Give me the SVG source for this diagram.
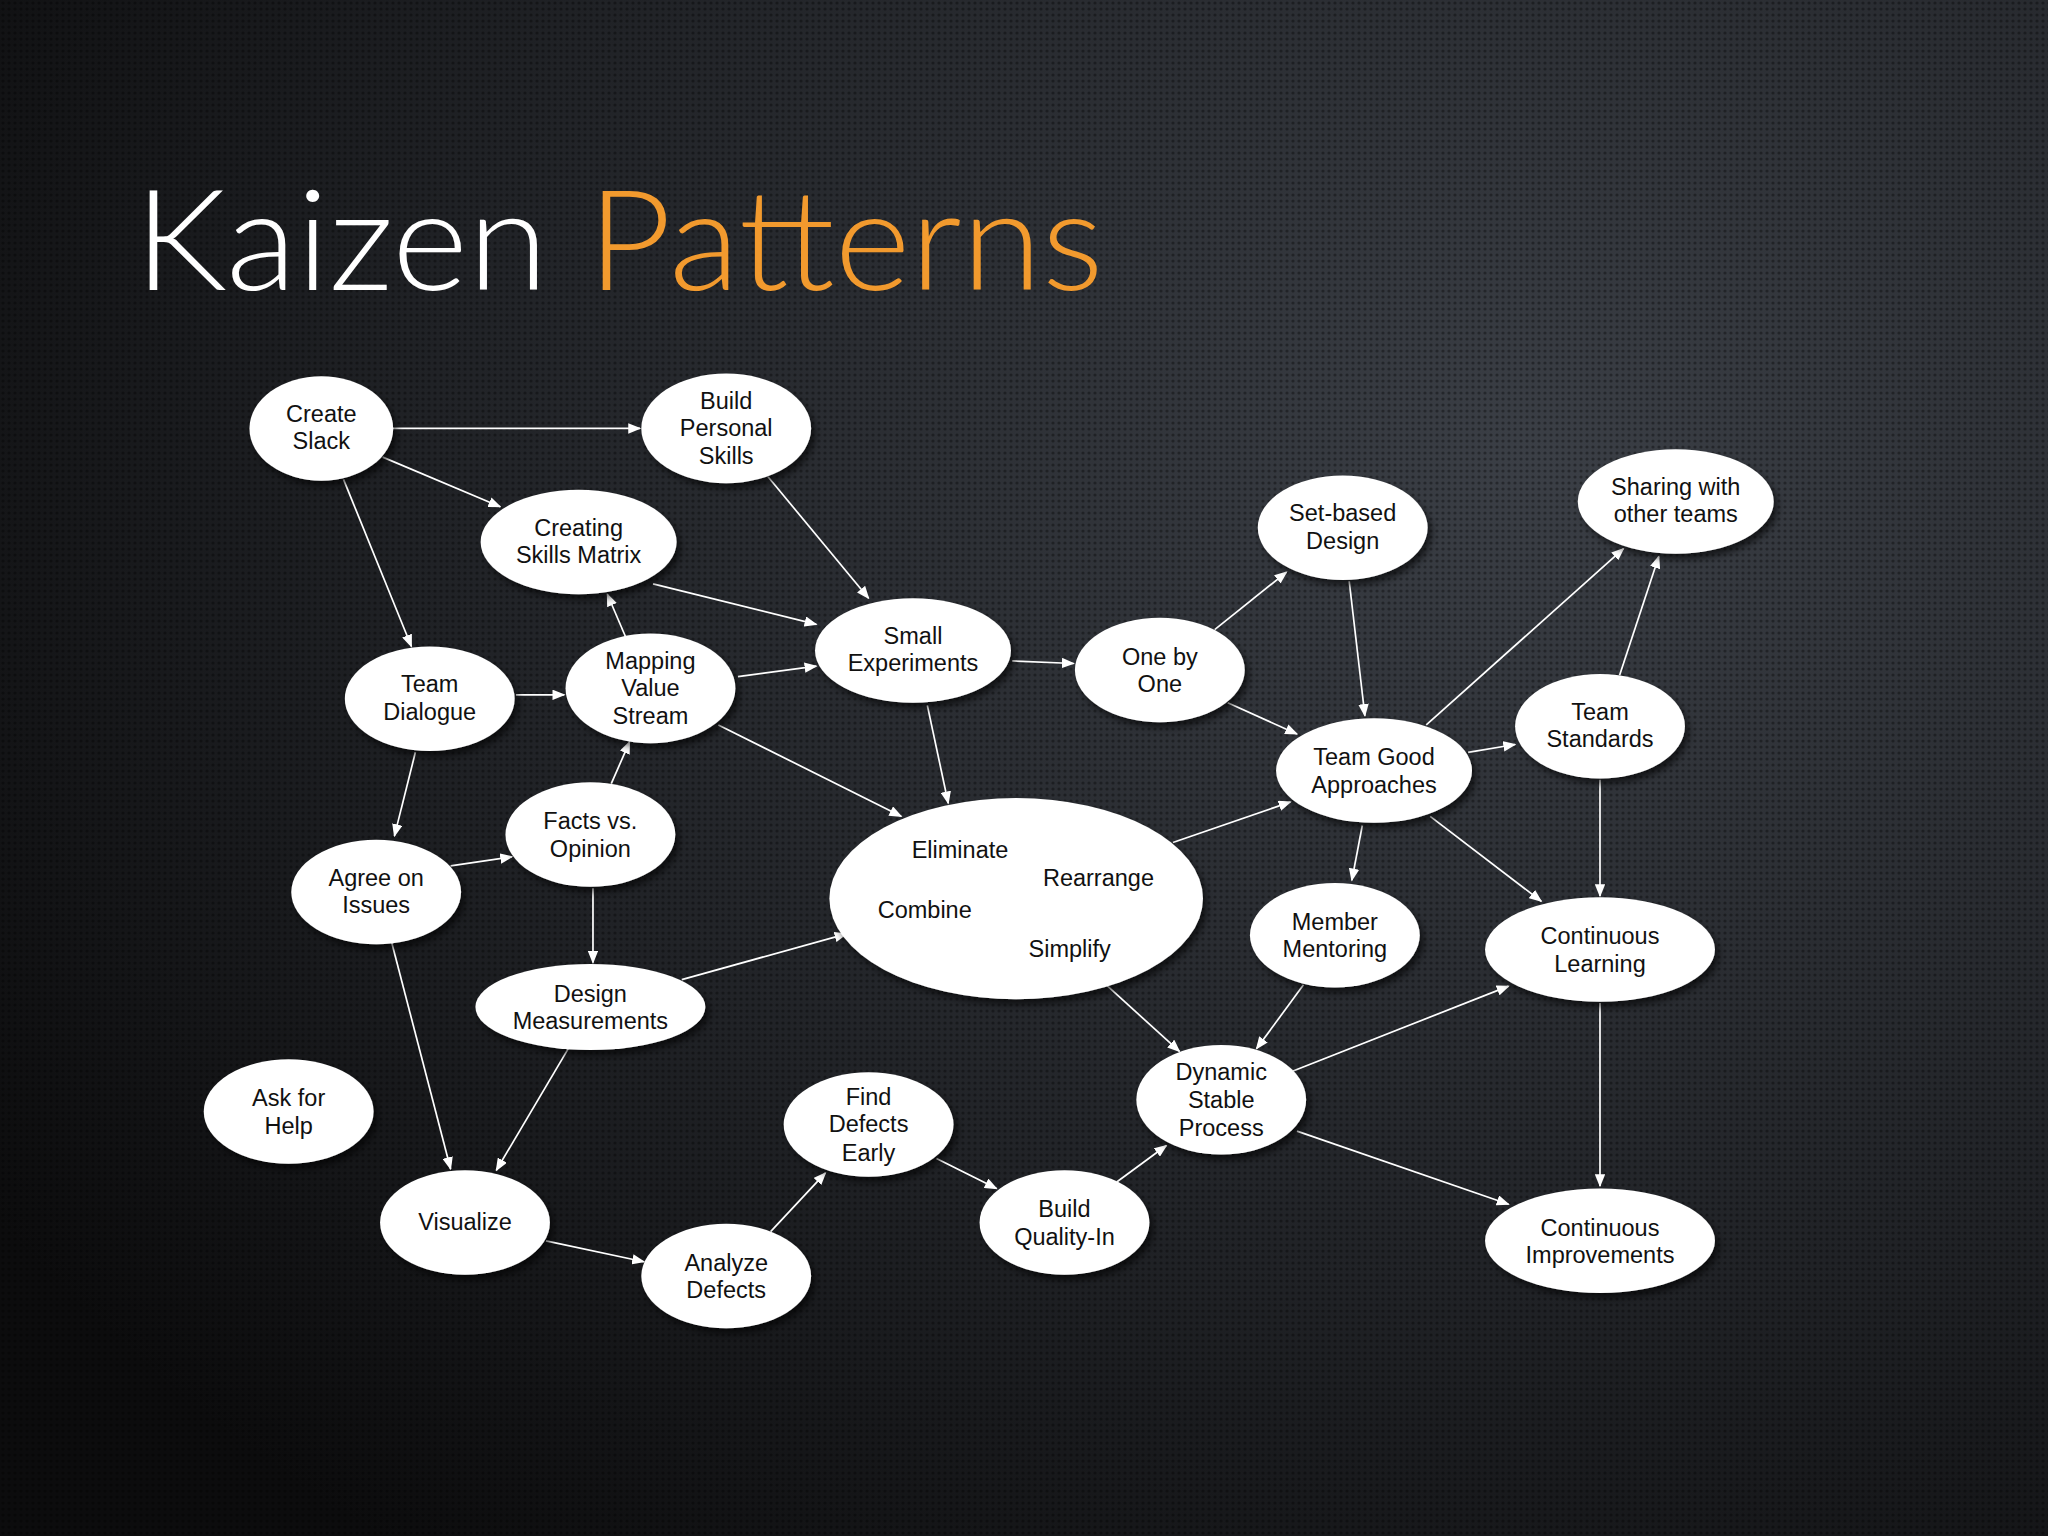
<svg xmlns="http://www.w3.org/2000/svg" width="2048" height="1536" viewBox="0 0 2048 1536">
<defs>
<radialGradient id="bg" cx="0.75" cy="0.3" r="0.9">
<stop offset="0" stop-color="#3b3f46"/><stop offset="0.6" stop-color="#202226"/><stop offset="1" stop-color="#0c0c0d"/>
</radialGradient>
<pattern id="dots" width="6" height="6" patternUnits="userSpaceOnUse">
<circle cx="3" cy="3" r="1.6" fill="#000" fill-opacity="0.35"/>
</pattern>
<marker id="ah" markerWidth="10" markerHeight="8" refX="9" refY="4" orient="auto" markerUnits="userSpaceOnUse">
<path d="M0,0 L10,4 L0,8 z" fill="#fff"/>
</marker>
<filter id="sh" x="-20%" y="-20%" width="150%" height="150%">
<feDropShadow dx="3" dy="4" stdDeviation="3" flood-color="#000" flood-opacity="0.6"/>
</filter>
<style>
.n ellipse{fill:#fff;filter:url(#sh)}
.n text,.t{font-family:"Liberation Sans",Arial,sans-serif;font-size:18px;fill:#111;text-anchor:middle}
#edges line{stroke:#fff;stroke-width:1.3;marker-end:url(#ah)}
</style>
</defs>
<rect width="2048" height="1536" fill="url(#bg)"/>
<rect width="2048" height="1536" fill="url(#dots)"/>
<g transform="scale(1.30612)">
<text x="103" y="222" font-family="Lato,'Liberation Sans',sans-serif" font-weight="300" font-size="108" textLength="742" lengthAdjust="spacingAndGlyphs"><tspan fill="#fff">Kaizen </tspan><tspan fill="#f29a2e">Patterns</tspan></text>
<g id="edges">
<line x1="300" y1="328" x2="490" y2="328"/>
<line x1="293" y1="350" x2="383" y2="388"/>
<line x1="263" y1="367" x2="315" y2="495"/>
<line x1="588" y1="365" x2="665" y2="458"/>
<line x1="500" y1="447" x2="625" y2="478"/>
<line x1="480" y1="490" x2="465" y2="455"/>
<line x1="395" y1="532" x2="432" y2="532"/>
<line x1="565" y1="518" x2="625" y2="510"/>
<line x1="550" y1="555" x2="690" y2="625"/>
<line x1="710" y1="540" x2="726" y2="615"/>
<line x1="775" y1="506" x2="822" y2="508"/>
<line x1="930" y1="482" x2="985" y2="438"/>
<line x1="940" y1="538" x2="993" y2="562"/>
<line x1="1033" y1="445" x2="1045" y2="548"/>
<line x1="1092" y1="555" x2="1243" y2="420"/>
<line x1="1240" y1="517" x2="1270" y2="426"/>
<line x1="1124" y1="576" x2="1160" y2="570"/>
<line x1="1043" y1="632" x2="1035" y2="674"/>
<line x1="1095" y1="625" x2="1180" y2="690"/>
<line x1="1225" y1="597" x2="1225" y2="686"/>
<line x1="1225" y1="768" x2="1225" y2="908"/>
<line x1="898" y1="645" x2="988" y2="614"/>
<line x1="318" y1="576" x2="302" y2="640"/>
<line x1="468" y1="600" x2="482" y2="568"/>
<line x1="345" y1="663" x2="392" y2="656"/>
<line x1="454" y1="680" x2="454" y2="737"/>
<line x1="522" y1="750" x2="648" y2="715"/>
<line x1="435" y1="803" x2="380" y2="896"/>
<line x1="300" y1="722" x2="345" y2="895"/>
<line x1="418" y1="950" x2="493" y2="966"/>
<line x1="590" y1="943" x2="632" y2="898"/>
<line x1="717" y1="887" x2="763" y2="910"/>
<line x1="855" y1="905" x2="893" y2="877"/>
<line x1="848" y1="755" x2="903" y2="805"/>
<line x1="998" y1="754" x2="962" y2="803"/>
<line x1="990" y1="820" x2="1155" y2="755"/>
<line x1="993" y1="866" x2="1155" y2="922"/>
</g>
<g id="create-slack" class="n"><ellipse cx="246" cy="328" rx="55" ry="40"/><text x="246" y="323">Create</text><text x="246" y="344">Slack</text></g>
<g id="build-personal" class="n"><ellipse cx="556" cy="328" rx="65" ry="42"/><text x="556" y="313">Build</text><text x="556" y="334">Personal</text><text x="556" y="355">Skills</text></g>
<g id="creating-skills" class="n"><ellipse cx="443" cy="415" rx="75" ry="40"/><text x="443" y="410">Creating</text><text x="443" y="431">Skills Matrix</text></g>
<g id="team-dialogue" class="n"><ellipse cx="329" cy="535" rx="65" ry="40"/><text x="329" y="530">Team</text><text x="329" y="551">Dialogue</text></g>
<g id="mapping" class="n"><ellipse cx="498" cy="527" rx="65" ry="42"/><text x="498" y="512">Mapping</text><text x="498" y="533">Value</text><text x="498" y="554">Stream</text></g>
<g id="small-exp" class="n"><ellipse cx="699" cy="498" rx="75" ry="40"/><text x="699" y="493">Small</text><text x="699" y="514">Experiments</text></g>
<g id="one-by-one" class="n"><ellipse cx="888" cy="513" rx="65" ry="40"/><text x="888" y="509">One by</text><text x="888" y="530">One</text></g>
<g id="set-based" class="n"><ellipse cx="1028" cy="404" rx="65" ry="40"/><text x="1028" y="399">Set-based</text><text x="1028" y="420">Design</text></g>
<g id="sharing" class="n"><ellipse cx="1283" cy="384" rx="75" ry="40"/><text x="1283" y="379">Sharing with</text><text x="1283" y="400">other teams</text></g>
<g id="team-standards" class="n"><ellipse cx="1225" cy="556" rx="65" ry="40"/><text x="1225" y="551">Team</text><text x="1225" y="572">Standards</text></g>
<g id="team-good" class="n"><ellipse cx="1052" cy="590" rx="75" ry="40"/><text x="1052" y="586">Team Good</text><text x="1052" y="607">Approaches</text></g>
<g id="facts" class="n"><ellipse cx="452" cy="639" rx="65" ry="40"/><text x="452" y="635">Facts vs.</text><text x="452" y="656">Opinion</text></g>
<g id="agree" class="n"><ellipse cx="288" cy="683" rx="65" ry="40"/><text x="288" y="678">Agree on</text><text x="288" y="699">Issues</text></g>
<g id="eliminate" class="n"><ellipse cx="778" cy="688" rx="143" ry="77"/><text x="735" y="657">Eliminate</text><text x="841" y="678">Rearrange</text><text x="708" y="703">Combine</text><text x="819" y="733">Simplify</text></g>
<g id="member-mentoring" class="n"><ellipse cx="1022" cy="716" rx="65" ry="40"/><text x="1022" y="712">Member</text><text x="1022" y="733">Mentoring</text></g>
<g id="cont-learning" class="n"><ellipse cx="1225" cy="727" rx="88" ry="40"/><text x="1225" y="723">Continuous</text><text x="1225" y="744">Learning</text></g>
<g id="design-meas" class="n"><ellipse cx="452" cy="771" rx="88" ry="33"/><text x="452" y="767">Design</text><text x="452" y="788">Measurements</text></g>
<g id="ask-help" class="n"><ellipse cx="221" cy="851" rx="65" ry="40"/><text x="221" y="847">Ask for</text><text x="221" y="868">Help</text></g>
<g id="dynamic" class="n"><ellipse cx="935" cy="842" rx="65" ry="42"/><text x="935" y="827">Dynamic</text><text x="935" y="848">Stable</text><text x="935" y="870">Process</text></g>
<g id="find-defects" class="n"><ellipse cx="665" cy="861" rx="65" ry="40"/><text x="665" y="846">Find</text><text x="665" y="867">Defects</text><text x="665" y="889">Early</text></g>
<g id="visualize" class="n"><ellipse cx="356" cy="936" rx="65" ry="40"/><text x="356" y="942">Visualize</text></g>
<g id="analyze" class="n"><ellipse cx="556" cy="977" rx="65" ry="40"/><text x="556" y="973">Analyze</text><text x="556" y="994">Defects</text></g>
<g id="build-quality" class="n"><ellipse cx="815" cy="936" rx="65" ry="40"/><text x="815" y="932">Build</text><text x="815" y="953">Quality-In</text></g>
<g id="cont-improvements" class="n"><ellipse cx="1225" cy="950" rx="88" ry="40"/><text x="1225" y="946">Continuous</text><text x="1225" y="967">Improvements</text></g>
</g>
</svg>
